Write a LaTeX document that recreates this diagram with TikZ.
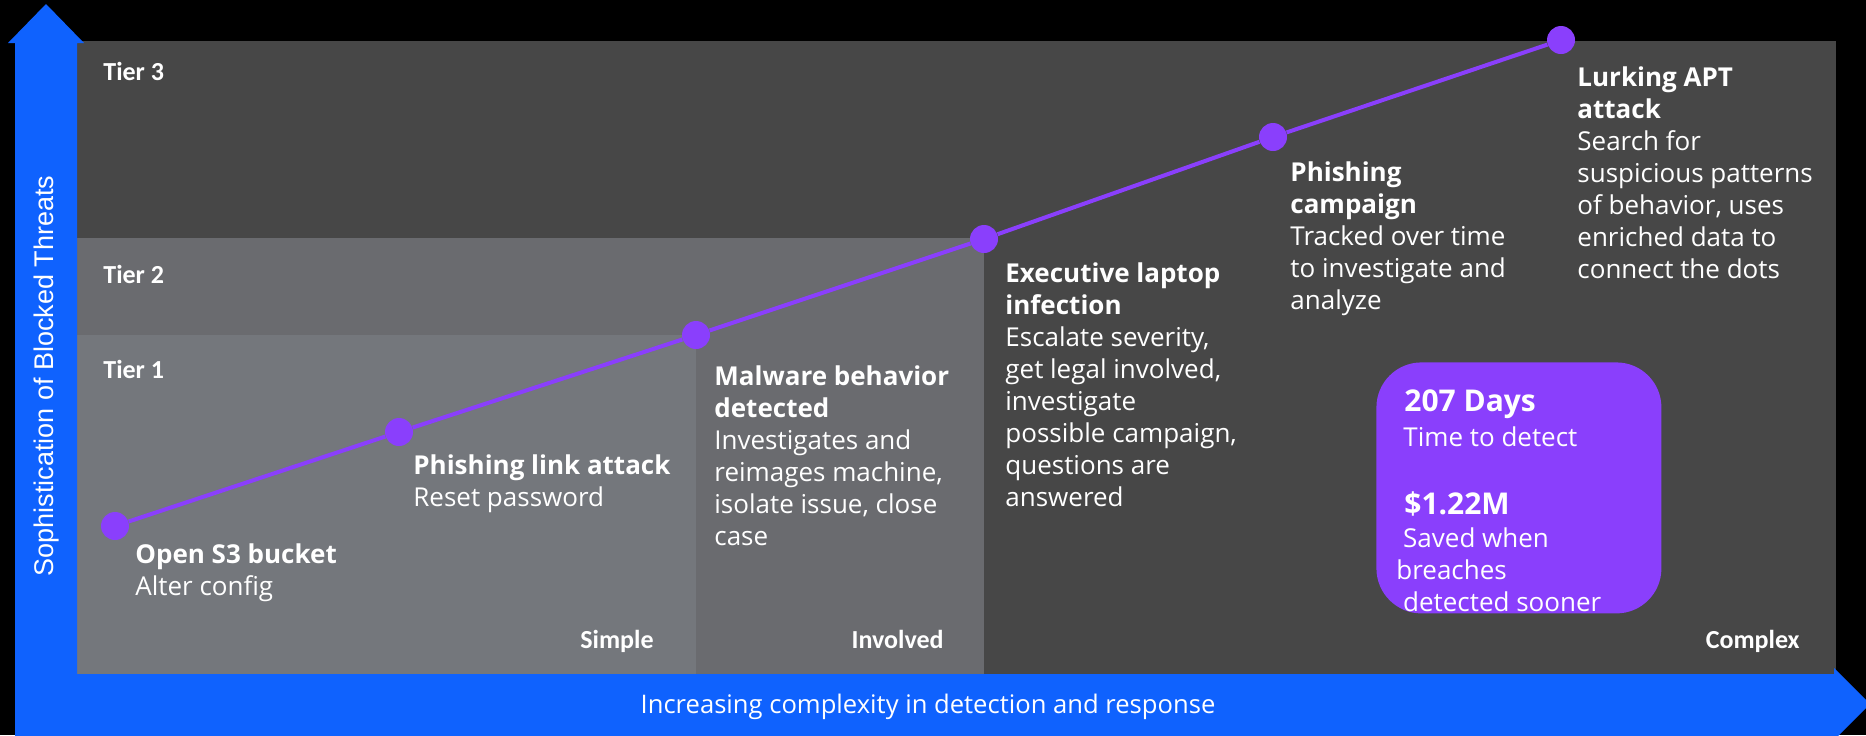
\documentclass[tikz,border=0pt]{standalone}
\usepackage{fontspec}
\setmainfont{Open Sans}
\newfontfamily\condfont{Carlito}
\newfontfamily\axisfont{Liberation Sans}
\usepackage{xcolor}
\usepackage{tikz}
\usetikzlibrary{positioning}

\definecolor{ibmblue}{HTML}{0F62FE}
\definecolor{ibmpurple}{HTML}{8A3FFC}
\definecolor{tierthree}{HTML}{474747}
\definecolor{tiertwo}{HTML}{6A6B6F}
\definecolor{tierone}{HTML}{74777C}

\begin{document}
\begin{tikzpicture}[x=0.5pt, y=-0.5pt,
  tierlbl/.style={anchor=base west, inner sep=0, text=white, font=\condfont\bfseries\fontsize{13}{15}\selectfont},
  collbl/.style={anchor=base east, inner sep=0, text=white, font=\condfont\bfseries\fontsize{13}{15}\selectfont},
  evtxt/.style={anchor=north west, inner sep=0, align=left, text=white, font=\fontsize{13}{16}\selectfont},
  stattxt/.style={anchor=base west, inner sep=0, text=white, font=\fontsize{13}{16}\selectfont},
  dot/.style={circle, fill=ibmpurple, inner sep=0, minimum size=14pt},
  trend/.style={draw=ibmpurple, line width=2pt}
]
\useasboundingbox (0,0) rectangle (1866,735);
\fill[black] (0,0) rectangle (1866,735);

\fill[tierthree] (77,41) rectangle (1836,674);
\fill[tiertwo] (77,238) rectangle (984,674);
\fill[tierone] (77,335) rectangle (696,674);

\fill[ibmblue] (15,735) -- (15,43) -- (8,43) -- (46,4) -- (84,43) -- (77,43) -- (77,735) -- cycle;
\fill[ibmblue] (15,674) -- (1834,674) -- (1834,668) -- (1870,704) -- (1834,740) -- (15,740) -- cycle;

\node[tierlbl] (t3) at (103,80) {Tier 3};
\node[tierlbl] (t2) at (103,283) {Tier 2};
\node[tierlbl] (t1) at (103,378) {Tier 1};

\node[collbl] (simple) at (654,648) {Simple};
\node[collbl] (involved) at (944,648) {Involved};
\node[collbl] (complex) at (1800,648) {Complex};

\node[dot] (d1) at (115,526) {};
\node[dot] (d2) at (399,432) {};
\node[dot] (d3) at (696,335) {};
\node[dot] (d4) at (984,239) {};
\node[dot] (d5) at (1273,137) {};
\node[dot] (d6) at (1561,40) {};
\draw[trend] (d1) -- (d2) -- (d3) -- (d4) -- (d5) -- (d6);

\node[evtxt] (s3) at (135,543) {\textbf{Open S3 bucket}\\Alter config};
\node[evtxt] (link) at (413,454) {\textbf{Phishing link attack}\\Reset password};
\node[evtxt] (malware) at (714,365) {\textbf{Malware behavior}\\\textbf{detected}\\Investigates and\\reimages machine,\\isolate issue, close\\case};
\node[evtxt] (laptop) at (1005,262) {\textbf{Executive laptop}\\\textbf{infection}\\Escalate severity,\\get legal involved,\\investigate\\possible campaign,\\questions are\\answered};
\node[evtxt] (campaign) at (1290,161) {\textbf{Phishing}\\\textbf{campaign}\\Tracked over time\\to investigate and\\analyze};
\node[evtxt] (apt) at (1577,66) {\textbf{Lurking APT}\\\textbf{attack}\\Search for\\suspicious patterns\\of behavior, uses\\enriched data to\\connect the dots};

\node[fill=ibmpurple, rounded corners=22.5pt, minimum width=142.5pt, minimum height=125.5pt, anchor=north west, inner sep=0] (stats) at (1376,362) {};
\node[stattxt, font=\bfseries\fontsize{15}{18}\selectfont] (days) at (1404,411) {207 Days};
\node[stattxt] (detect) at (1403,446) {Time to detect};
\node[stattxt, font=\bfseries\fontsize{15}{18}\selectfont] (saved) at (1404,514) {\$1.22M};
\node[stattxt] (sooner) at (1396,547) {\ Saved when};
\node[stattxt] (breach) at (1396,579) {breaches};
\node[stattxt] (sooner2) at (1396,611) {\ detected sooner};

\node[anchor=base, inner sep=0, text=white, font=\fontsize{12.8}{15}\selectfont] (xlbl) at (928,713) {Increasing complexity in detection and response};
\node[anchor=base, inner sep=0, rotate=90, text=white, font=\axisfont\fontsize{13.5}{16}\selectfont] (ylbl) at (53,376) {Sophistication of Blocked Threats};
\end{tikzpicture}
\end{document}
